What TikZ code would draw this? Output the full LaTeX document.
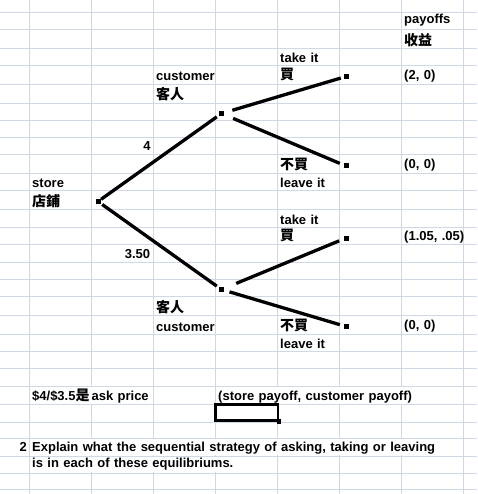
\documentclass[tikz,border=0pt]{standalone}
\usepackage{fontspec}
\setmainfont{Liberation Sans}
\newfontfamily\cjk{Noto Sans CJK TC}
\definecolor{gridc}{HTML}{D0D7E5}
\newcommand{\latinfont}{\fontsize{13}{15}\selectfont\bfseries\spaceskip=4.4pt\relax}
\begin{document}
\begin{tikzpicture}[x=1pt,y=-1pt,
  lbl/.style={anchor=base west,inner sep=0pt,font=\latinfont},
  lblr/.style={anchor=base east,inner sep=0pt,font=\latinfont},
  zh/.style={anchor=base west,inner sep=0pt,font=\fontsize{14}{16}\selectfont\cjk\bfseries},
  dot/.style={fill=black,inner sep=0pt,minimum size=5pt,rectangle},
  branch/.style={line width=3.3pt},
  gl/.style={draw=gridc,line width=1pt}]
\useasboundingbox (0,0) rectangle (477,494);
\fill[white] (0,0) rectangle (477,494);
% grid
\foreach \x in {29.5,91.5,153.5,215.5,277.5,339.5,401.5,463.5}
  \draw[gl] (\x,0) -- (\x,494);
\foreach \y in {12.5,29.5,48.5,65.5,84.5,103.5,120.5,137.5,154.5,173.5,190.5,209.5,227,244.5,262.5,279.5,296.5,315.5,334.5,351.5,368.5,386,404.5,422,438.5,456,473,489.5}
  \draw[gl] (0,\y) -- (477,\y);
% gridlines hidden where text spills over
\foreach \x in {91.5} \fill[white] (\x-1,386.6) rectangle (\x+1,403.9);
\foreach \x in {277.5,339.5,401.5} \fill[white] (\x-1,386.6) rectangle (\x+1,403.9);
\foreach \x in {91.5,153.5,215.5,277.5,339.5,401.5} \fill[white] (\x-1,439.1) rectangle (\x+1,455.4);
\foreach \x in {91.5,153.5,215.5} \fill[white] (\x-1,456.6) rectangle (\x+1,472.4);
% tree nodes
\node[dot] (s) at (98,201.5) {};
\node[dot] (c1) at (221.5,113.5) {};
\node[dot] (c2) at (221.5,289.5) {};
\node[dot] (l1) at (346,76.5) {};
\node[dot] (l2) at (346,166) {};
\node[dot] (l3) at (346,238) {};
\node[dot] (l4) at (346,326.5) {};
% branches
\draw[branch,shorten <=0.5pt,shorten >=2.5pt] (s) -- (c1);
\draw[branch,shorten <=1.8pt,shorten >=2.5pt] (s) -- (c2);
\draw[branch,shorten <=8.5pt,shorten >=2.6pt] (c1) -- (l1);
\draw[branch,shorten <=9.7pt,shorten >=3.8pt] (c1) -- (l2);
\draw[branch,shorten <=13pt,shorten >=4.5pt] (c2) -- (l3);
\draw[branch,shorten <=5.5pt,shorten >=3.6pt] (c2) -- (l4);
% labels
\node[lbl] (tpay) at (404,24) {payoffs};
\node[zh] (tpayz) at (404,45.5) {收益};
\node[lbl] (tk1) at (280,62.7) {take it};
\node[zh] (tk1z) at (280,80) {買};
\node[lbl] (p1) at (404,79.7) {(2, 0)};
\node[lbl] (cu1) at (156,81) {customer};
\node[zh] (cu1z) at (156,100) {客人};
\node[lblr] (pr1) at (150.7,150.7) {4};
\node[zh] (lv1z) at (280,169.7) {不買};
\node[lbl] (p2) at (404,168.7) {(0, 0)};
\node[lbl] (st) at (32,187.7) {store};
\node[zh] (stz) at (32,206) {店鋪};
\node[lbl] (lv1) at (280,187.3) {leave it};
\node[lbl] (tk2) at (280,224) {take it};
\node[zh] (tk2z) at (280,240.7) {買};
\node[lbl] (p3) at (404,240.3) {(1.05, .05)};
\node[lblr] (pr2) at (150.3,258.5) {3.50};
\node[zh] (cu2z) at (156,312.3) {客人};
\node[lbl] (cu2) at (156,331) {customer};
\node[zh] (lv2z) at (280,330.7) {不買};
\node[lbl] (p4) at (404,329.7) {(0, 0)};
\node[lbl] (lv2) at (280,348.3) {leave it};
\node[lbl] (ask) at (32,400.3) {\$4/\$3.5{\cjk\fontsize{14}{16}\selectfont\bfseries 是}\hspace{2pt}ask price};
\node[lbl] (leg) at (218,400.3) {(store payoff, customer payoff)};
\node[lblr] (qn) at (27,451) {2};
\node[lbl] (q1) at (32,451) {Explain what the sequential strategy of asking, taking or leaving};
\node[lbl] (q2) at (32,467.5) {is in each of these equilibriums.};
% selected cell
\node[draw=black,line width=2.3pt,inner sep=0pt,minimum width=62.5pt,minimum height=16pt] (sel) at (246.75,412.5) {};
\node[dot,minimum size=4.5pt] (hdl) at (sel.south east) {};
\end{tikzpicture}
\end{document}
